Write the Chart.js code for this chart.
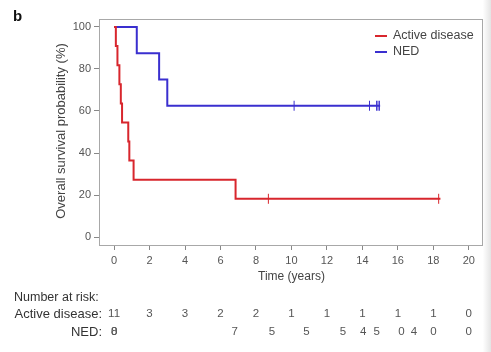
<!DOCTYPE html>
<html>
<head>
<meta charset="utf-8">
<script src="https://cdn.jsdelivr.net/npm/chart.js@4/dist/chart.umd.min.js"></script>
<style>
  html, body { margin: 0; padding: 0; }
  body { width: 491px; height: 352px; overflow: hidden; background: linear-gradient(to right, #fff 0, #fff 98.3%, #e4e4e4 100%); }
  canvas { display: block; }
</style>
</head>
<body>
<canvas id="km" width="491" height="352"></canvas>
<script>
// Kaplan-Meier steps (time in years, survival in %)
const activeTimes = [0, 0.1, 0.19, 0.3, 0.38, 0.45, 0.8, 0.86, 1.1, 6.85, 18.4];
const activeSurv = [100, 90.9, 81.8, 72.7, 63.6, 54.5, 45.5, 36.4, 27.3, 18.2, 18.2];
const activeCensor = [8.7, 18.3];
const activeCensorSurv = [18.2, 18.2];

const nedTimes = [0, 1.28, 2.54, 3.0, 15.0];
const nedSurv = [100, 87.5, 75, 62.5, 62.5];
const nedCensor = [10.15, 14.4, 14.8, 14.88, 14.96];
const nedCensorSurv = [62.5, 62.5, 62.5, 62.5, 62.5];

const xTicks = [0, 2, 4, 6, 8, 10, 12, 14, 16, 18, 20];
const yTicks = [0, 20, 40, 60, 80, 100];

// number at risk table
const activeRiskTimes = [0, 2, 4, 6, 8, 10, 12, 14, 16, 18, 20];
const activeRisk = ['11', '3', '3', '2', '2', '1', '1', '1', '1', '1', '0'];
const nedRiskTimes = [0, 0, 6.8, 8.9, 10.85, 12.9, 14.05, 14.8, 16.2, 16.9, 18, 20];
const nedRisk = ['0', '8', '7', '5', '5', '5', '4', '5', '0', '4', '0', '0'];

const RED = '#d8262d';
const BLUE = '#3a2fcf';
const FONT = 'Arial, "Liberation Sans", sans-serif';

const pts = (xs, ys) => xs.map((x, i) => ({ x, y: ys[i] }));

const extras = {
  id: 'extras',
  afterDraw(chart) {
    const { ctx, chartArea: a, scales: { x } } = chart;
    ctx.save();
    // frame
    ctx.strokeStyle = '#a8a8a8';
    ctx.lineWidth = 1;
    ctx.strokeRect(a.left + 0.5, a.top + 0.5, a.right - a.left - 1, a.bottom - a.top);

    // panel letter
    ctx.fillStyle = '#111';
    ctx.font = 'bold 15px ' + FONT;
    ctx.textBaseline = 'middle';
    ctx.textAlign = 'left';
    ctx.fillText('b', 13, 17);

    // legend
    const leg = [['Active disease', RED, 36], ['NED', BLUE, 52]];
    ctx.font = '12.5px ' + FONT;
    leg.forEach(([txt, col, y]) => {
      ctx.strokeStyle = col;
      ctx.lineWidth = 2;
      ctx.beginPath();
      ctx.moveTo(375, y);
      ctx.lineTo(387, y);
      ctx.stroke();
      ctx.fillStyle = '#444';
      ctx.fillText(txt, 393, y);
    });

    // axis titles
    ctx.fillStyle = '#444';
    ctx.textAlign = 'center';
    ctx.font = '12px ' + FONT;
    ctx.fillText('Time (years)', x.getPixelForValue(10), 277);
    ctx.save();
    ctx.translate(61, 131);
    ctx.rotate(-Math.PI / 2);
    ctx.font = '13px ' + FONT;
    ctx.fillText('Overall survival probability (%)', 0, 0);
    ctx.restore();

    // number at risk
    ctx.fillStyle = '#333';
    ctx.font = '12.5px ' + FONT;
    ctx.textAlign = 'left';
    ctx.fillText('Number at risk:', 14, 298);
    ctx.textAlign = 'right';
    ctx.font = '13px ' + FONT;
    ctx.fillText('Active disease:', 102, 314);
    ctx.fillText('NED:', 102, 332);
    ctx.font = '11.5px ' + FONT;
    ctx.textAlign = 'center';
    ctx.fillStyle = '#555';
    activeRisk.forEach((v, i) => ctx.fillText(v, x.getPixelForValue(activeRiskTimes[i]), 314));
    nedRisk.forEach((v, i) => ctx.fillText(v, x.getPixelForValue(nedRiskTimes[i]), 332));
    ctx.restore();
  }
};

new Chart(document.getElementById('km'), {
  type: 'line',
  data: {
    datasets: [
      { label: 'Active disease', data: pts(activeTimes, activeSurv), borderColor: RED, borderWidth: 2, stepped: 'before', pointRadius: 0, fill: false },
      { label: 'NED', data: pts(nedTimes, nedSurv), borderColor: BLUE, borderWidth: 2, stepped: 'before', pointRadius: 0, fill: false },
      { label: 'Active censored', data: pts(activeCensor, activeCensorSurv), showLine: false, pointStyle: 'line', rotation: 90, pointRadius: 5, borderColor: RED, borderWidth: 1 },
      { label: 'NED censored', data: pts(nedCensor, nedCensorSurv), showLine: false, pointStyle: 'line', rotation: 90, pointRadius: 5, borderColor: BLUE, borderWidth: 1 }
    ]
  },
  options: {
    responsive: false,
    animation: false,
    devicePixelRatio: 1,
    layout: { padding: { top: 19, right: 8, left: 0, bottom: 0 } },
    plugins: { legend: { display: false }, tooltip: { enabled: false } },
    scales: {
      x: {
        type: 'linear', min: -0.85, max: 20.8,
        afterBuildTicks: s => { s.ticks = xTicks.map(v => ({ value: v })); },
        afterFit: s => { s.height = 107; },
        grid: { drawOnChartArea: false, tickLength: 5, color: '#888' },
        border: { display: false },
        ticks: { color: '#555', padding: 4, font: { family: FONT, size: 11 } }
      },
      y: {
        type: 'linear', min: -3.8, max: 103.8,
        afterBuildTicks: s => { s.ticks = yTicks.map(v => ({ value: v })); },
        afterFit: s => { s.width = 99; },
        grid: { drawOnChartArea: false, tickLength: 5, color: '#888' },
        border: { display: false },
        ticks: { color: '#555', padding: 3, font: { family: FONT, size: 11 } }
      }
    }
  },
  plugins: [extras]
});
</script>
</body>
</html>
